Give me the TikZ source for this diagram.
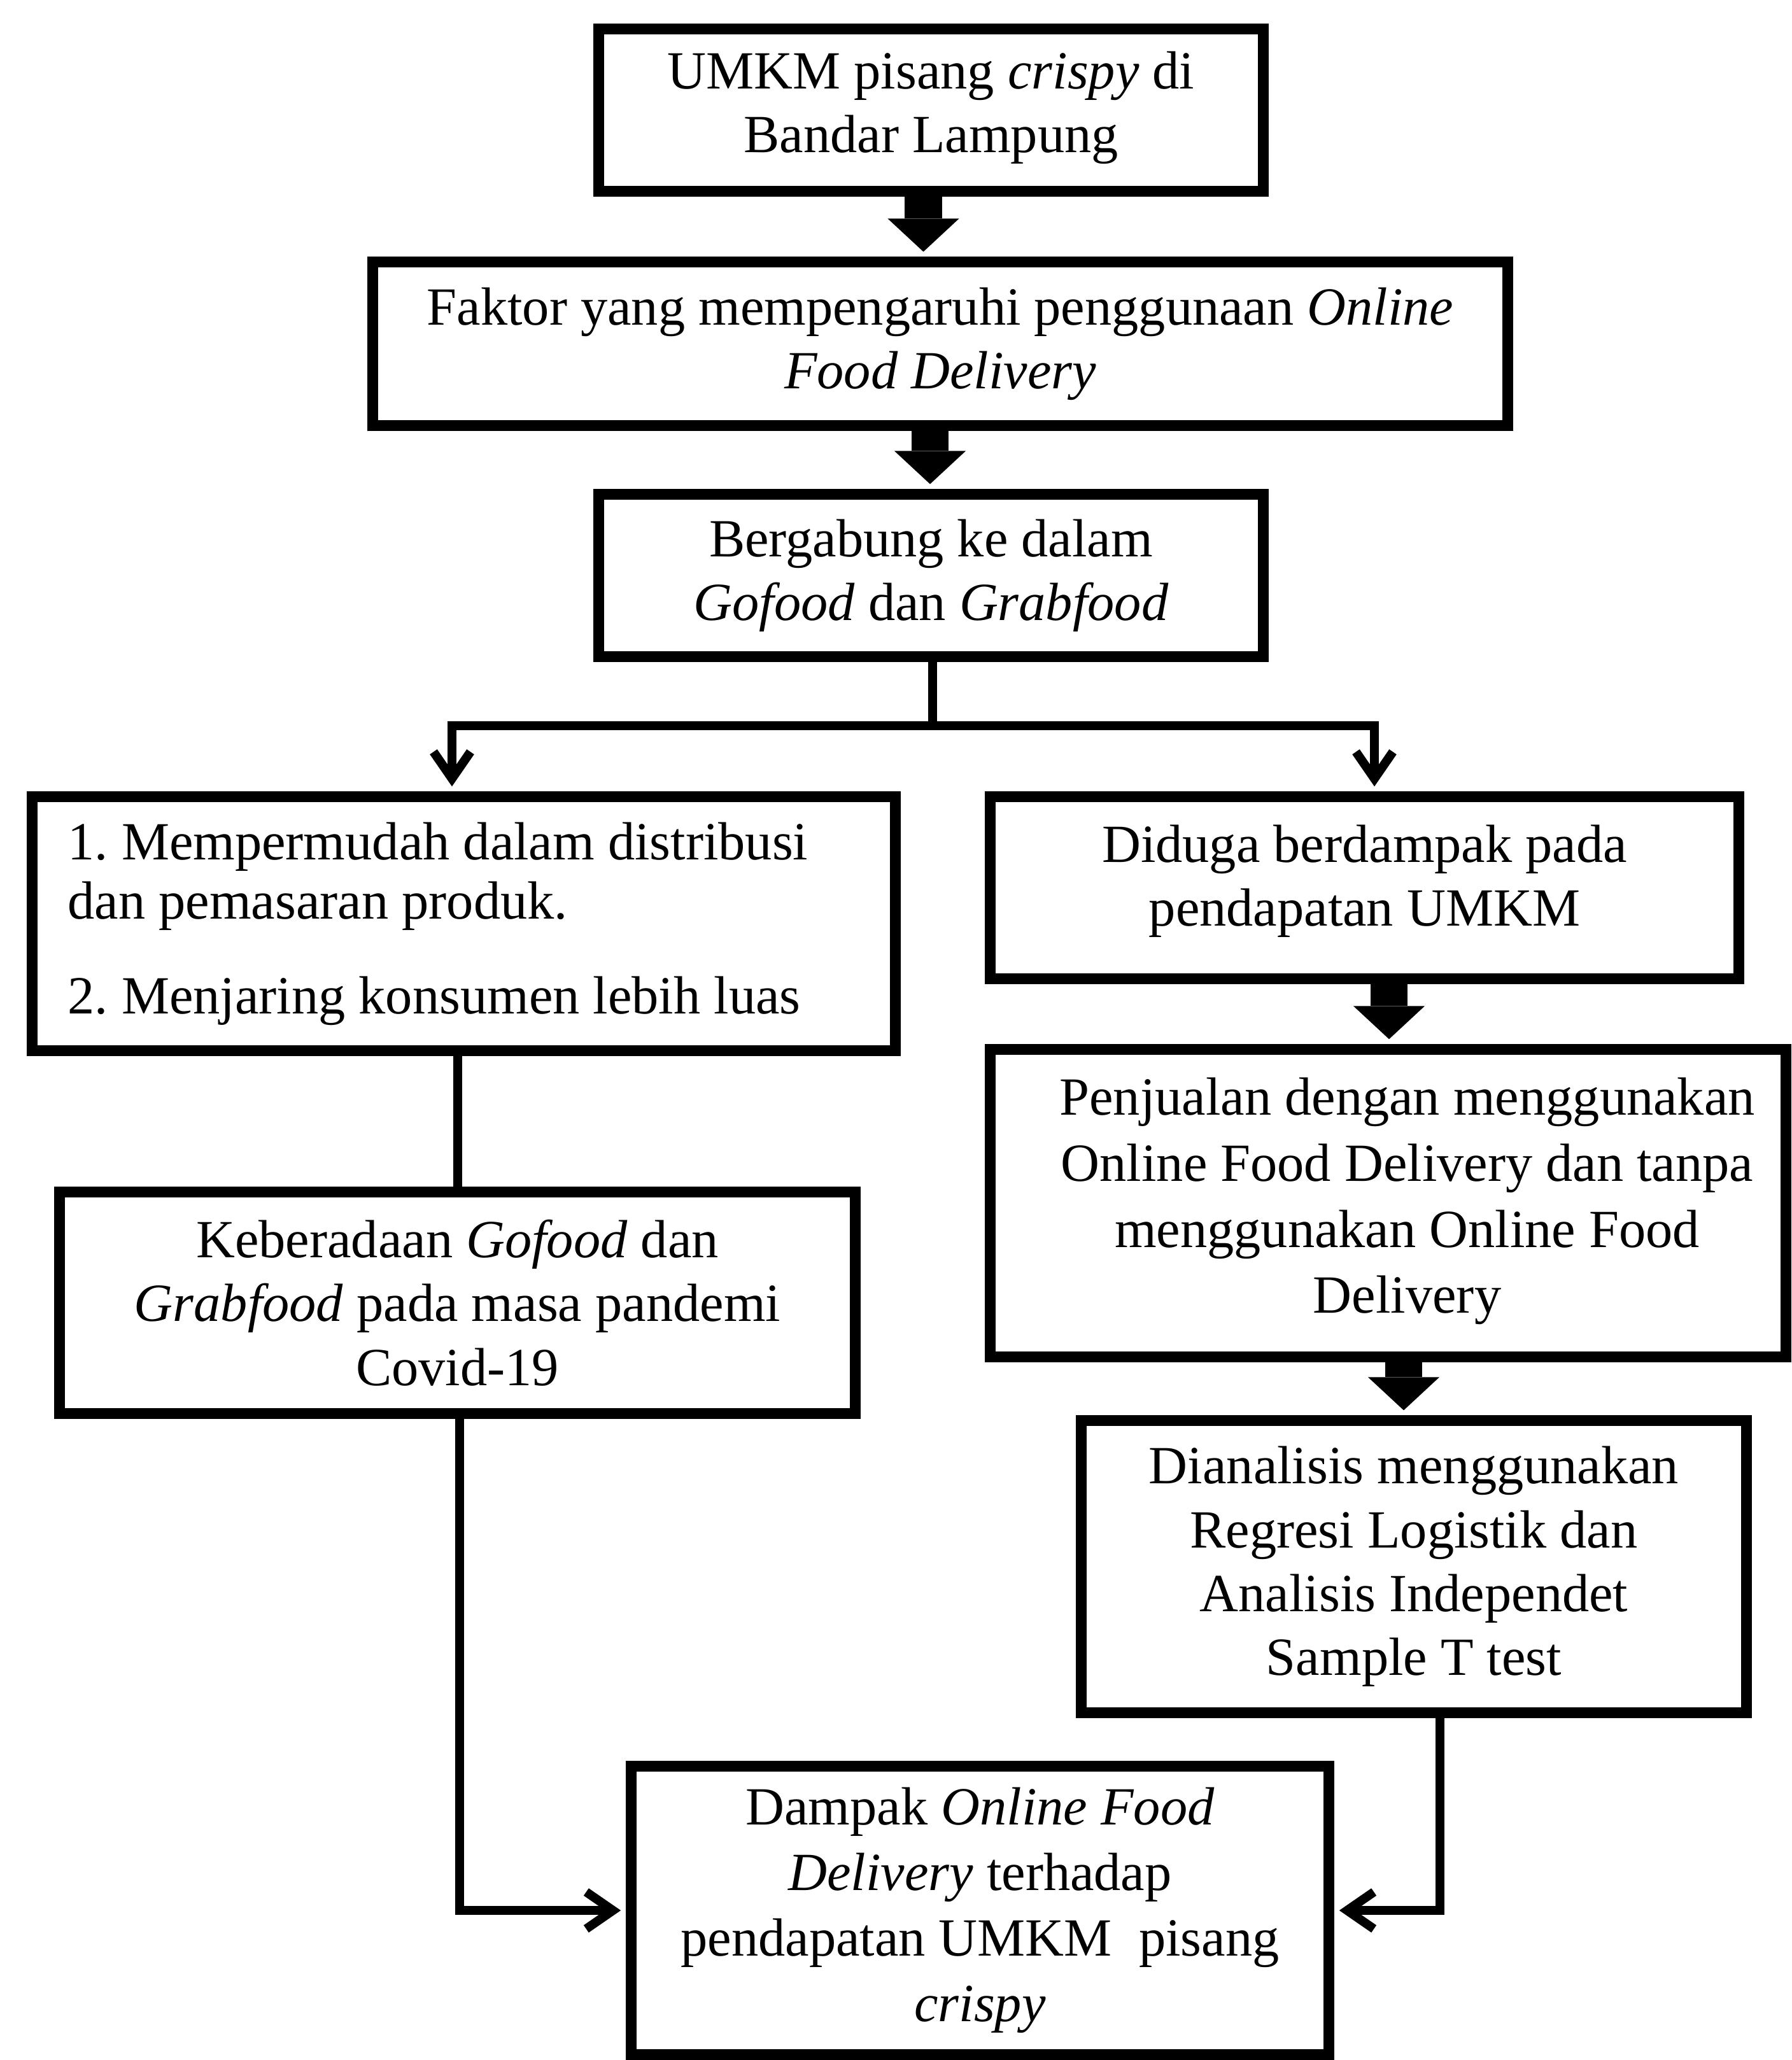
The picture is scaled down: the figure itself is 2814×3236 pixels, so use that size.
\documentclass[tikz,border=0pt]{standalone}
\usepackage{fontspec}
\setmainfont{Liberation Serif}
\usetikzlibrary{arrows.meta,calc}
\frenchspacing
\tikzset{
  box/.style={draw, line width=0.17cm, inner sep=0pt, align=center,
    font=\frenchspacing\fontsize{24}{28.5}\selectfont},
  blockarrow/.style={line width=0.58cm, shorten >=0.08cm,
    -{Triangle[length=0.52cm,width=1.12cm,line width=0pt]}},
  conn/.style={line width=0.14cm},
  connarrow/.style={conn, shorten >=0.08cm,
    -{Straight Barb[length=0.42cm,width=0.58cm]}}
}
\begin{document}
\begin{tikzpicture}[x=0.01cm,y=-0.01cm]
\useasboundingbox (0,0) rectangle (2814,3236);

\node[box, minimum width=10.43cm, minimum height=2.54cm] (b1) at (1462.5,173)
  {UMKM pisang \textit{crispy} di\\Bandar Lampung\rule[-0.26cm]{0pt}{0pt}};
\node[box, minimum width=17.82cm, minimum height=2.56cm] (b2) at (1477,540)
  {Faktor yang mempengaruhi penggunaan \textit{Online}\\\textit{Food Delivery}};
\node[box, minimum width=10.43cm, minimum height=2.54cm] (b3) at (1462.5,904)
  {Bergabung ke dalam\\\textit{Gofood} dan \textit{Grabfood}};
\node[box, minimum width=13.55cm, minimum height=3.98cm, text width=12.43cm,
  align=flush left, font=\frenchspacing\fontsize{24}{26.4}\selectfont] (b4) at (728.5,1451)
  {1. Mempermudah dalam distribusi\\dan pemasaran produk.\\[0.56cm]2. Menjaring konsumen lebih luas};
\node[box, minimum width=11.75cm, minimum height=2.85cm] (b5) at (2143.5,1394.5)
  {Diduga berdampak pada\\pendapatan UMKM\rule[-0.38cm]{0pt}{0pt}};
\node[box, minimum width=12.49cm, minimum height=4.82cm,
  font=\frenchspacing\fontsize{24}{29.5}\selectfont] (b6) at (2180.5,1890)
  {\hspace*{0.6cm}Penjualan dengan menggunakan\\\hspace*{0.6cm}Online Food Delivery dan tanpa\\\hspace*{0.6cm}menggunakan Online Food\\\hspace*{0.6cm}Delivery\rule[-0.24cm]{0pt}{0pt}};
\node[box, minimum width=10.44cm, minimum height=4.58cm] (b7) at (2221,2461)
  {Dianalisis menggunakan\\Regresi Logistik dan\\Analisis Independet\\Sample T test};
\node[box, minimum width=12.49cm, minimum height=3.47cm] (b8) at (718.5,2046.5)
  {Keberadaan \textit{Gofood} dan\\\textit{Grabfood} pada masa pandemi\\Covid-19};
\node[box, minimum width=10.95cm, minimum height=4.52cm,
  font=\frenchspacing\fontsize{24}{29.3}\selectfont] (b9) at (1539.5,3001)
  {Dampak \textit{Online Food}\\\textit{Delivery} terhadap\\pendapatan UMKM\ \ pisang\\\textit{crispy}};

% block arrows
\draw[blockarrow] ([xshift=-0.12cm]b1.south) coordinate (a1) -- (a1 |- b2.north);
\draw[blockarrow] ([xshift=-0.16cm]b2.south) coordinate (a2) -- (a2 |- b3.north);
\draw[blockarrow] ([xshift=0.385cm]b5.south) coordinate (a3) -- (a3 |- b6.north);
\draw[blockarrow] ([xshift=0.245cm]b6.south) coordinate (a4) -- (a4 |- b7.north);

% branch
\coordinate (j) at (1465,1140);
\draw[conn] (j |- b3.south) -- (j);
\draw[connarrow] ([xshift=0.07cm]j) -| ([xshift=-0.185cm]b4.north);
\draw[connarrow] ([xshift=-0.07cm]j) -| ([xshift=0.155cm]b5.north);

% left chain
\draw[conn] (b8.north |- b4.south) -- (b8.north);
\draw[connarrow] ([xshift=0.03cm]b8.south) |- (b9.west);

% right chain
\draw[connarrow] ([xshift=0.41cm]b7.south) |- (b9.east);
\end{tikzpicture}
\end{document}
